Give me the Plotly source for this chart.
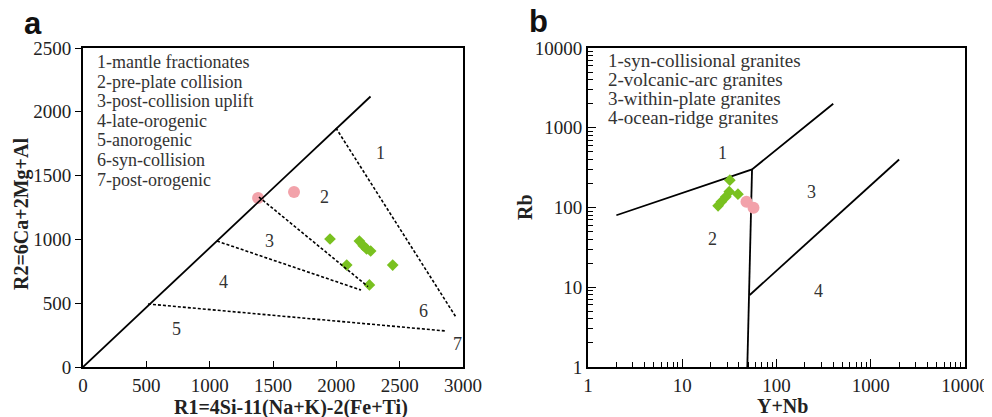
import math
import plotly.graph_objects as go

W, H = 992, 417
OFF = 8  # browser body margin


def px(x):
    return (x - OFF) / W


def py(y):
    return 1 - (y - OFF) / H


# ---------------- data: panel a (R1-R2) ----------------
a_pink_r1 = [1382, 1666]
a_pink_r2 = [1324, 1371]
a_green_r1 = [1950, 2182, 2213, 2239, 2271, 2082, 2445, 2261]
a_green_r2 = [1003, 987, 951, 925, 909, 799, 799, 643]

a_solid_x = [0, 2270]
a_solid_y = [0, 2120]
a_dash_x = [[1997, 2945], [1389, 2250], [1058, 2195], [513, 2866]]
a_dash_y = [[1873, 390], [1332, 630], [987, 603], [494, 282]]

a_region_labels = ["1", "2", "3", "4", "5", "6", "7"]
a_region_x = [2345, 1910, 1476, 1113, 742, 2692, 2953]
a_region_y = [1677, 1332, 987, 666, 298, 439, 180]

a_legend = ["1-mantle fractionates", "2-pre-plate collision", "3-post-collision uplift",
            "4-late-orogenic", "5-anorogenic", "6-syn-collision", "7-post-orogenic"]
a_xticks = [0, 500, 1000, 1500, 2000, 2500, 3000]
a_yticks = [0, 500, 1000, 1500, 2000, 2500]

# ---------------- data: panel b (Y+Nb - Rb) ----------------
b_green_ynb = [32, 31.5, 29, 26, 24, 39]
b_green_rb = [220, 158, 136, 118, 105, 147]
b_pink_ynb = [48, 57]
b_pink_rb = [118, 99]

b_lines_x = [[2, 55, 400], [55, 49], [52, 2000]]
b_lines_y = [[80, 300, 2000], [300, 1], [8, 400]]

b_region_labels = ["1", "2", "3", "4"]
b_region_x = [27, 21, 236, 277]
b_region_y = [480, 40, 158, 9]

b_legend = ["1-syn-collisional granites", "2-volcanic-arc granites",
            "3-within-plate granites", "4-ocean-ridge granites"]
b_ticks = [1, 10, 100, 1000, 10000]

GREEN = "#79C11F"
PINK = "#F2A2AA"
SERIF = "Liberation Serif"
TXT = "#333333"

fig = go.Figure()

# panel a: markers then boundary lines
fig.add_trace(go.Scatter(x=a_green_r1, y=a_green_r2, mode="markers", xaxis="x", yaxis="y",
                         marker=dict(symbol="diamond", size=9, color=GREEN), showlegend=False))
fig.add_trace(go.Scatter(x=a_pink_r1, y=a_pink_r2, mode="markers", xaxis="x", yaxis="y",
                         marker=dict(symbol="circle", size=12, color=PINK), showlegend=False))
fig.add_trace(go.Scatter(x=a_solid_x, y=a_solid_y, mode="lines", xaxis="x", yaxis="y",
                         line=dict(color="black", width=1.8), showlegend=False))
for xs, ys in zip(a_dash_x, a_dash_y):
    fig.add_trace(go.Scatter(x=xs, y=ys, mode="lines", xaxis="x", yaxis="y",
                             line=dict(color="black", width=1.6, dash="3px,2px"), showlegend=False))

# panel b: lines then markers
for xs, ys in zip(b_lines_x, b_lines_y):
    fig.add_trace(go.Scatter(x=xs, y=ys, mode="lines", xaxis="x2", yaxis="y2",
                             line=dict(color="black", width=1.8), showlegend=False))
fig.add_trace(go.Scatter(x=b_green_ynb, y=b_green_rb, mode="markers", xaxis="x2", yaxis="y2",
                         marker=dict(symbol="diamond", size=9, color=GREEN), showlegend=False))
fig.add_trace(go.Scatter(x=b_pink_ynb, y=b_pink_rb, mode="markers", xaxis="x2", yaxis="y2",
                         marker=dict(symbol="circle", size=12, color=PINK), showlegend=False))

ax_common = dict(showgrid=False, zeroline=False, showline=True, linecolor="black", linewidth=1.8,
                 mirror=True, tickcolor="black", tickwidth=1.2, automargin=False,
                 tickfont=dict(family=SERIF, size=19, color="#222222"))

ay_b, ay_t = py(367), py(48)

annotations = []
for t, x, y in zip(a_region_labels, a_region_x, a_region_y):
    annotations.append(dict(x=x, y=y, xref="x", yref="y", text=t, showarrow=False,
                            xanchor="center", yanchor="middle",
                            font=dict(family=SERIF, size=18, color=TXT)))
for t, x, y in zip(b_region_labels, b_region_x, b_region_y):
    annotations.append(dict(x=math.log10(x), y=math.log10(y), xref="x2", yref="y2", text=t,
                            showarrow=False, xanchor="center", yanchor="middle",
                            font=dict(family=SERIF, size=18, color=TXT)))
for i, t in enumerate(a_legend):
    annotations.append(dict(x=px(95), y=py(62 + i * 19.6), xref="paper", yref="paper",
                            text=t, showarrow=False, xanchor="left", yanchor="middle",
                            font=dict(family=SERIF, size=18, color=TXT)))
for i, t in enumerate(b_legend):
    annotations.append(dict(x=px(606), y=py(61 + i * 18.7), xref="paper", yref="paper",
                            text=t, showarrow=False, xanchor="left", yanchor="middle",
                            font=dict(family=SERIF, size=19, color=TXT)))


def title(text, x, y, size=20, angle=0, family=SERIF, color="#222222"):
    return dict(x=px(x), y=py(y), xref="paper", yref="paper", text=text, showarrow=False,
                xanchor="center", yanchor="middle", textangle=angle,
                font=dict(family=family, size=size, color=color))


annotations += [
    title("<b>R1=4Si-11(Na+K)-2(Fe+Ti)</b>", 291, 407),
    title("<b>R2=6Ca+2Mg+Al</b>", 21, 214, angle=-90),
    title("<b>Y+Nb</b>", 782, 406),
    title("<b>Rb</b>", 525, 207, angle=-90),
    title("<b>a</b>", 33, 23, size=31, family="Liberation Sans", color="#111111"),
    title("<b>b</b>", 538, 21, size=31, family="Liberation Sans", color="#111111"),
]

fig.update_layout(
    width=W, height=H, margin=dict(l=0, r=0, t=0, b=0, autoexpand=False),
    paper_bgcolor="white", plot_bgcolor="white", showlegend=False,
    xaxis=dict(domain=[px(83), px(463)], range=[0, 3000], tickvals=a_xticks, ticks="inside",
               ticklen=6, anchor="y", **ax_common),
    yaxis=dict(domain=[ay_b, ay_t], range=[0, 2500], tickvals=a_yticks, ticks="outside",
               ticklen=6, anchor="x", **ax_common),
    xaxis2=dict(domain=[px(588), px(965)], type="log", range=[0, 4], tickvals=b_ticks,
                ticktext=[str(v) for v in b_ticks], ticks="inside", ticklen=8, anchor="y2",
                minor=dict(ticks="inside", ticklen=5, dtick="D1", tickcolor="black", showgrid=False),
                **ax_common),
    yaxis2=dict(domain=[ay_b, ay_t], type="log", range=[0, 4], tickvals=b_ticks,
                ticktext=[str(v) for v in b_ticks], ticks="inside", ticklen=8, anchor="x2",
                minor=dict(ticks="inside", ticklen=5, dtick="D1", tickcolor="black", showgrid=False),
                **ax_common),
    annotations=annotations,
)

fig.write_html("out.html")
